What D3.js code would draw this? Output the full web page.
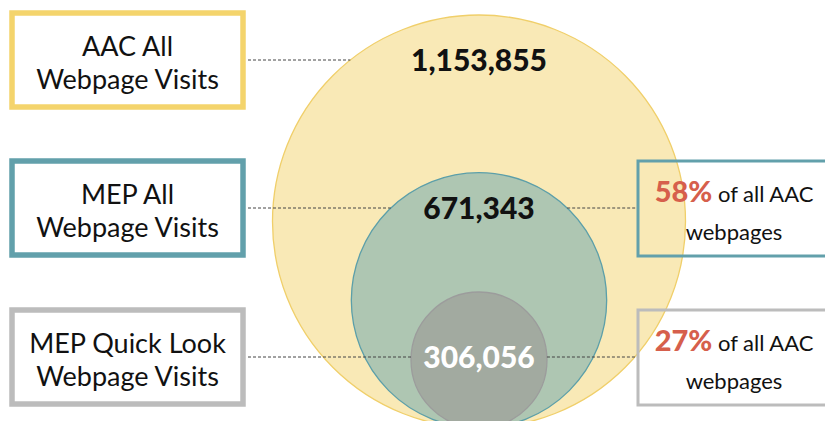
<!DOCTYPE html>
<html>
<head>
<meta charset="utf-8">
<script src="https://cdn.jsdelivr.net/npm/d3@7"></script>
<style>
  body { margin: 0; background: #fff; }
  text { font-family: Lato, "Noto Sans", sans-serif; }
</style>
</head>
<body>
<svg class="nested" width="825" height="421"></svg>
<script>
(function (d3) {
  'use strict';

  // data
  const categories = ['AAC All Webpage Visits', 'MEP All Webpage Visits', 'MEP Quick Look Webpage Visits'];
  const labelLines = [['AAC All', 'Webpage Visits'], ['MEP All', 'Webpage Visits'], ['MEP Quick Look', 'Webpage Visits']];
  const visits = [1153855, 671343, 306056];
  const shareText = 'of all AAC';
  const shareText2 = 'webpages';

  const svg = d3.select('.nested');

  const fills = ['#f9e9b6', '#aec6b2', '#a2aaa0'];
  const strokes = ['#f0cf6a', '#5c9fa9', '#9c9c9c'];
  const boxStrokes = ['#f4d46c', '#62a0ab', '#bcbcbc'];
  const rows = [60, 208, 357];   // y of each dotted leader line
  const cx = 479;
  const baseY = 428;             // circles share a common bottom

  const rScale = d3.scaleLinear()
    .domain([0, d3.max(visits)])
    .range([18, 206.5]);

  const data = categories.map((c, i) => ({
    name: c,
    lines: labelLines[i],
    value: visits[i],
    r: rScale(visits[i]),
    cy: baseY - rScale(visits[i]),
    row: rows[i],
    i: i
  }));

  // circles
  svg.selectAll('circle').data(data)
    .enter().append('circle')
      .attr('cx', cx)
      .attr('cy', d => d.cy)
      .attr('r', d => d.r)
      .attr('fill', d => fills[d.i])
      .attr('stroke', d => strokes[d.i])
      .attr('stroke-width', 1.3);

  // half chord of circle d at height y
  const edge = (d, y) => Math.sqrt(Math.max(0, d.r * d.r - (y - d.cy) * (y - d.cy)));

  // dotted leader lines
  const boxRight = 248, rightBoxLeft = 638;
  data.forEach(d => {
    const dx = edge(d, d.row);
    svg.append('line')
      .attr('x1', boxRight).attr('x2', cx - dx)
      .attr('y1', d.row).attr('y2', d.row)
      .attr('stroke', '#444').attr('stroke-width', 1)
      .attr('stroke-dasharray', '3,2');
    if (d.i > 0) {
      svg.append('line')
        .attr('x1', cx + dx).attr('x2', rightBoxLeft)
        .attr('y1', d.row).attr('y2', d.row)
        .attr('stroke', '#444').attr('stroke-width', 1)
        .attr('stroke-dasharray', '3,2');
    }
  });

  // left label boxes
  const left = svg.selectAll('g.lbl').data(data)
    .enter().append('g')
      .attr('class', 'lbl')
      .attr('transform', d => `translate(0,${d.row})`);

  left.append('rect')
    .attr('x', 12).attr('y', -47)
    .attr('width', 231).attr('height', 94)
    .attr('fill', '#fff')
    .attr('stroke', d => boxStrokes[d.i])
    .attr('stroke-width', 5.5);

  left.append('text')
    .attr('x', 127.5).attr('y', -4)
    .attr('text-anchor', 'middle')
    .attr('font-size', 27)
    .attr('fill', '#111')
    .text(d => d.lines[0]);

  left.append('text')
    .attr('x', 127.5).attr('y', 29)
    .attr('text-anchor', 'middle')
    .attr('font-size', 27)
    .attr('fill', '#111')
    .text(d => d.lines[1]);

  // value labels
  svg.selectAll('text.val').data(data)
    .enter().append('text')
      .attr('class', 'val')
      .attr('x', cx)
      .attr('y', d => d.row + 11)
      .attr('text-anchor', 'middle')
      .attr('font-size', 30)
      .attr('font-weight', 900)
      .attr('fill', d => d.i === 2 ? '#fff' : '#111')
      .text(d => d3.format(',')(d.value));

  // right share boxes
  const pct = d3.format('.0%');
  const right = svg.selectAll('g.share').data(data.slice(1))
    .enter().append('g')
      .attr('class', 'share')
      .attr('transform', d => `translate(0,${d.row})`);

  right.append('rect')
    .attr('x', rightBoxLeft).attr('y', -47)
    .attr('width', 220).attr('height', 95)
    .attr('fill', 'none')
    .attr('stroke', d => boxStrokes[d.i])
    .attr('stroke-width', 3);

  const t = right.append('text')
    .attr('x', 734).attr('y', -6)
    .attr('text-anchor', 'middle');
  t.append('tspan')
    .attr('font-size', 29)
    .attr('font-weight', 900)
    .attr('fill', '#d65f4c')
    .text(d => pct(d.value / visits[0]));
  t.append('tspan')
    .attr('font-size', 22)
    .attr('fill', '#111')
    .text(' ' + shareText);

  right.append('text')
    .attr('x', 734).attr('y', 32)
    .attr('text-anchor', 'middle')
    .attr('font-size', 22)
    .attr('fill', '#111')
    .text(shareText2);

}(d3));
</script>
</body>
</html>
